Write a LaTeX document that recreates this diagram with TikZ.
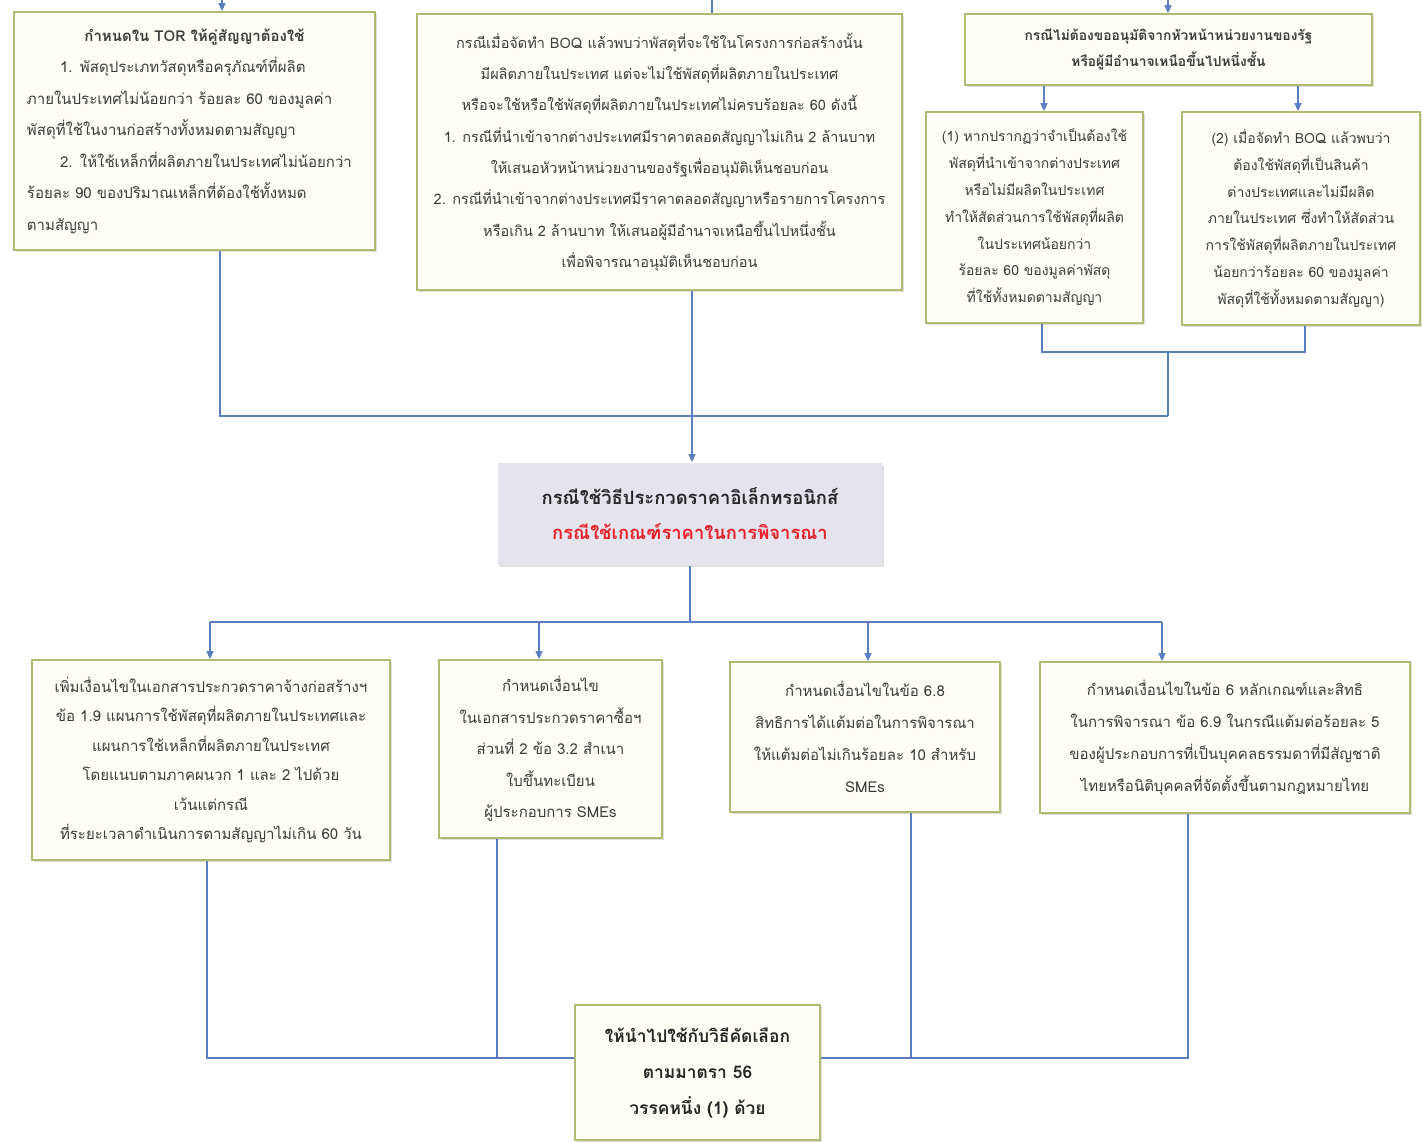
\documentclass[tikz,border=0pt]{standalone}
\usepackage{fontspec}
\setmainfont[Script=Thai]{Loma}
\usetikzlibrary{arrows.meta,shadows}
\definecolor{bxline}{HTML}{B0BA72}
\definecolor{bxfill}{HTML}{FEFEF7}
\definecolor{conn}{HTML}{5B7EC2}
\definecolor{txt}{HTML}{3C3C3C}
\definecolor{cfill}{HTML}{E5E3EC}
\definecolor{redtxt}{HTML}{E8202A}
\tikzset{
  mybox/.style={draw=bxline, line width=1.8pt, fill=bxfill, inner sep=0pt,
    text=txt, align=center, font=\fontsize{15}{30}\selectfont,
    drop shadow={shadow xshift=1.5pt, shadow yshift=-1.5pt, opacity=0.25}},
  conline/.style={draw=conn, line width=1.6pt},
  arr/.style={conline, -{Triangle[width=7pt,length=8pt]}},
}
\begin{document}
\begin{tikzpicture}[x=1pt,y=-1pt]
\useasboundingbox[fill=white] (0,0) rectangle (1422,1143);

% top row
\node[mybox, minimum width=361pt, minimum height=238pt, text width=335pt, align=left, font=\fontsize{15}{31.5}\selectfont] (TL) at (194.5,131)
 {\makebox[335pt]{\bfseries กำหนดใน TOR ให้คู่สัญญาต้องใช้}\\
  \hspace*{2.2em}1. พัสดุประเภทวัสดุหรือครุภัณฑ์ที่ผลิต\\
  ภายในประเทศไม่น้อยกว่า ร้อยละ 60 ของมูลค่า\\
  พัสดุที่ใช้ในงานก่อสร้างทั้งหมดตามสัญญา\\
  \hspace*{2.2em}2. ให้ใช้เหล็กที่ผลิตภายในประเทศไม่น้อยกว่า\\
  ร้อยละ 90 ของปริมาณเหล็กที่ต้องใช้ทั้งหมด\\
  ตามสัญญา};

\node[mybox, minimum width=485pt, minimum height=276pt, font=\fontsize{14.5}{31.3}\selectfont] (TM) at (659.5,152)
 {กรณีเมื่อจัดทำ BOQ แล้วพบว่าพัสดุที่จะใช้ในโครงการก่อสร้างนั้น\\
  มีผลิตภายในประเทศ แต่จะไม่ใช้พัสดุที่ผลิตภายในประเทศ\\
  หรือจะใช้หรือใช้พัสดุที่ผลิตภายในประเทศไม่ครบร้อยละ 60 ดังนี้\\
  1. กรณีที่นำเข้าจากต่างประเทศมีราคาตลอดสัญญาไม่เกิน 2 ล้านบาท\\
  ให้เสนอหัวหน้าหน่วยงานของรัฐเพื่ออนุมัติเห็นชอบก่อน\\
  2. กรณีที่นำเข้าจากต่างประเทศมีราคาตลอดสัญญาหรือรายการโครงการ\\
  หรือเกิน 2 ล้านบาท ให้เสนอผู้มีอำนาจเหนือขึ้นไปหนึ่งชั้น\\
  เพื่อพิจารณาอนุมัติเห็นชอบก่อน};

\node[mybox, minimum width=407pt, minimum height=71pt, font=\fontsize{13.8}{26}\selectfont\bfseries] (RH) at (1168.5,49.5)
 {กรณีไม่ต้องขออนุมัติจากหัวหน้าหน่วยงานของรัฐ\\
  หรือผู้มีอำนาจเหนือขึ้นไปหนึ่งชั้น};

\node[mybox, minimum width=217pt, minimum height=211pt, font=\fontsize{14}{26.8}\selectfont] (R1) at (1034.5,217.5)
 {(1) หากปรากฏว่าจำเป็นต้องใช้\\
  พัสดุที่นำเข้าจากต่างประเทศ\\
  หรือไม่มีผลิตในประเทศ\\
  ทำให้สัดส่วนการใช้พัสดุที่ผลิต\\
  ในประเทศน้อยกว่า\\
  ร้อยละ 60 ของมูลค่าพัสดุ\\
  ที่ใช้ทั้งหมดตามสัญญา};

\node[mybox, minimum width=238pt, minimum height=213pt, font=\fontsize{14}{26.8}\selectfont] (R2) at (1301,218.5)
 {(2) เมื่อจัดทำ BOQ แล้วพบว่า\\
  ต้องใช้พัสดุที่เป็นสินค้า\\
  ต่างประเทศและไม่มีผลิต\\
  ภายในประเทศ ซึ่งทำให้สัดส่วน\\
  การใช้พัสดุที่ผลิตภายในประเทศ\\
  น้อยกว่าร้อยละ 60 ของมูลค่า\\
  พัสดุที่ใช้ทั้งหมดตามสัญญา)};

% centre
\node[mybox, draw=none, fill=cfill, minimum width=384pt, minimum height=102pt,
      font=\fontsize{18.4}{35}\selectfont\bfseries, text=black!85] (C) at (690,514)
 {กรณีใช้วิธีประกวดราคาอิเล็กทรอนิกส์\\
  \textcolor{redtxt}{กรณีใช้เกณฑ์ราคาในการพิจารณา}};

% bottom row
\node[mybox, minimum width=358pt, minimum height=200pt, font=\fontsize{15}{29.5}\selectfont] (B1) at (211,760)
 {เพิ่มเงื่อนไขในเอกสารประกวดราคาจ้างก่อสร้างฯ\\
  ข้อ 1.9 แผนการใช้พัสดุที่ผลิตภายในประเทศและ\\
  แผนการใช้เหล็กที่ผลิตภายในประเทศ\\
  โดยแนบตามภาคผนวก 1 และ 2 ไปด้วย\\
  เว้นแต่กรณี\\
  ที่ระยะเวลาดำเนินการตามสัญญาไม่เกิน 60 วัน};

\node[mybox, minimum width=223pt, minimum height=178pt, font=\fontsize{15}{31.5}\selectfont] (B2) at (550.5,749)
 {กำหนดเงื่อนไข\\
  ในเอกสารประกวดราคาซื้อฯ\\
  ส่วนที่ 2 ข้อ 3.2 สำเนา\\
  ใบขึ้นทะเบียน\\
  ผู้ประกอบการ SMEs};

\node[mybox, minimum width=270pt, minimum height=150pt, font=\fontsize{15}{32}\selectfont] (B3) at (865,737)
 {กำหนดเงื่อนไขในข้อ 6.8\\
  สิทธิการได้แต้มต่อในการพิจารณา\\
  ให้แต้มต่อไม่เกินร้อยละ 10 สำหรับ\\
  SMEs};

\node[mybox, minimum width=370pt, minimum height=151pt, font=\fontsize{15}{32}\selectfont] (B4) at (1225,737.5)
 {กำหนดเงื่อนไขในข้อ 6 หลักเกณฑ์และสิทธิ\\
  ในการพิจารณา ข้อ 6.9 ในกรณีแต้มต่อร้อยละ 5\\
  ของผู้ประกอบการที่เป็นบุคคลธรรมดาที่มีสัญชาติ\\
  ไทยหรือนิติบุคคลที่จัดตั้งขึ้นตามกฎหมายไทย};

% connector coordinates
\coordinate (inTL) at (222,-2);
\coordinate (inTM) at (712,-2);
\coordinate (inRH) at (1168,-2);
\coordinate (jR) at (1168,352);
\coordinate (jL) at (220,416);
\coordinate (jM) at (1168,416);
\coordinate (jC) at (690,622);
\coordinate (jB) at (207,1058);
\coordinate (jBend) at (1188,1058);

% top connectors
\draw[arr] (inTL) -- (inTL |- TL.north);
\draw[conline] (inTM) -- (inTM |- TM.north);
\draw[arr] (inRH) -- (inRH |- RH.north);
\draw[arr] (1044,0 |- RH.south) -- (1044,0 |- R1.north);
\draw[arr] (1298,0 |- RH.south) -- (1298,0 |- R2.north);
\draw[conline] (1042,0 |- R1.south) -- (1042,352) -- (1305,352) -- (1305,0 |- R2.south);
\draw[conline] (jR) -- (jM);
\draw[conline] (jL |- TL.south) -- (jL) -- (jM);
\draw[arr] (692,0 |- TM.south) -- (692,0 |- C.north);

% centre to bottom row
\draw[conline] (C.south -| jC) -- (jC);
\draw[conline] (210,622) -- (1162,622);
\draw[arr] (210,622) -- (210,0 |- B1.north);
\draw[arr] (539,622) -- (539,0 |- B2.north);
\draw[arr] (868,622) -- (868,0 |- B3.north);
\draw[arr] (1162,622) -- (1162,0 |- B4.north);

% bottom row to final
\draw[conline] (jB |- B1.south) -- (jB) -- (jBend) -- (jBend |- B4.south);
\draw[conline] (497,0 |- B2.south) -- (497,1058);
\draw[conline] (911,0 |- B3.south) -- (911,1058);

\node[mybox, minimum width=245pt, minimum height=135pt, font=\fontsize{17.4}{36}\selectfont\bfseries, text=black!85] (F) at (697.5,1072.5)
 {ให้นำไปใช้กับวิธีคัดเลือก\\
  ตามมาตรา 56\\
  วรรคหนึ่ง (1) ด้วย};
\end{tikzpicture}
\end{document}
